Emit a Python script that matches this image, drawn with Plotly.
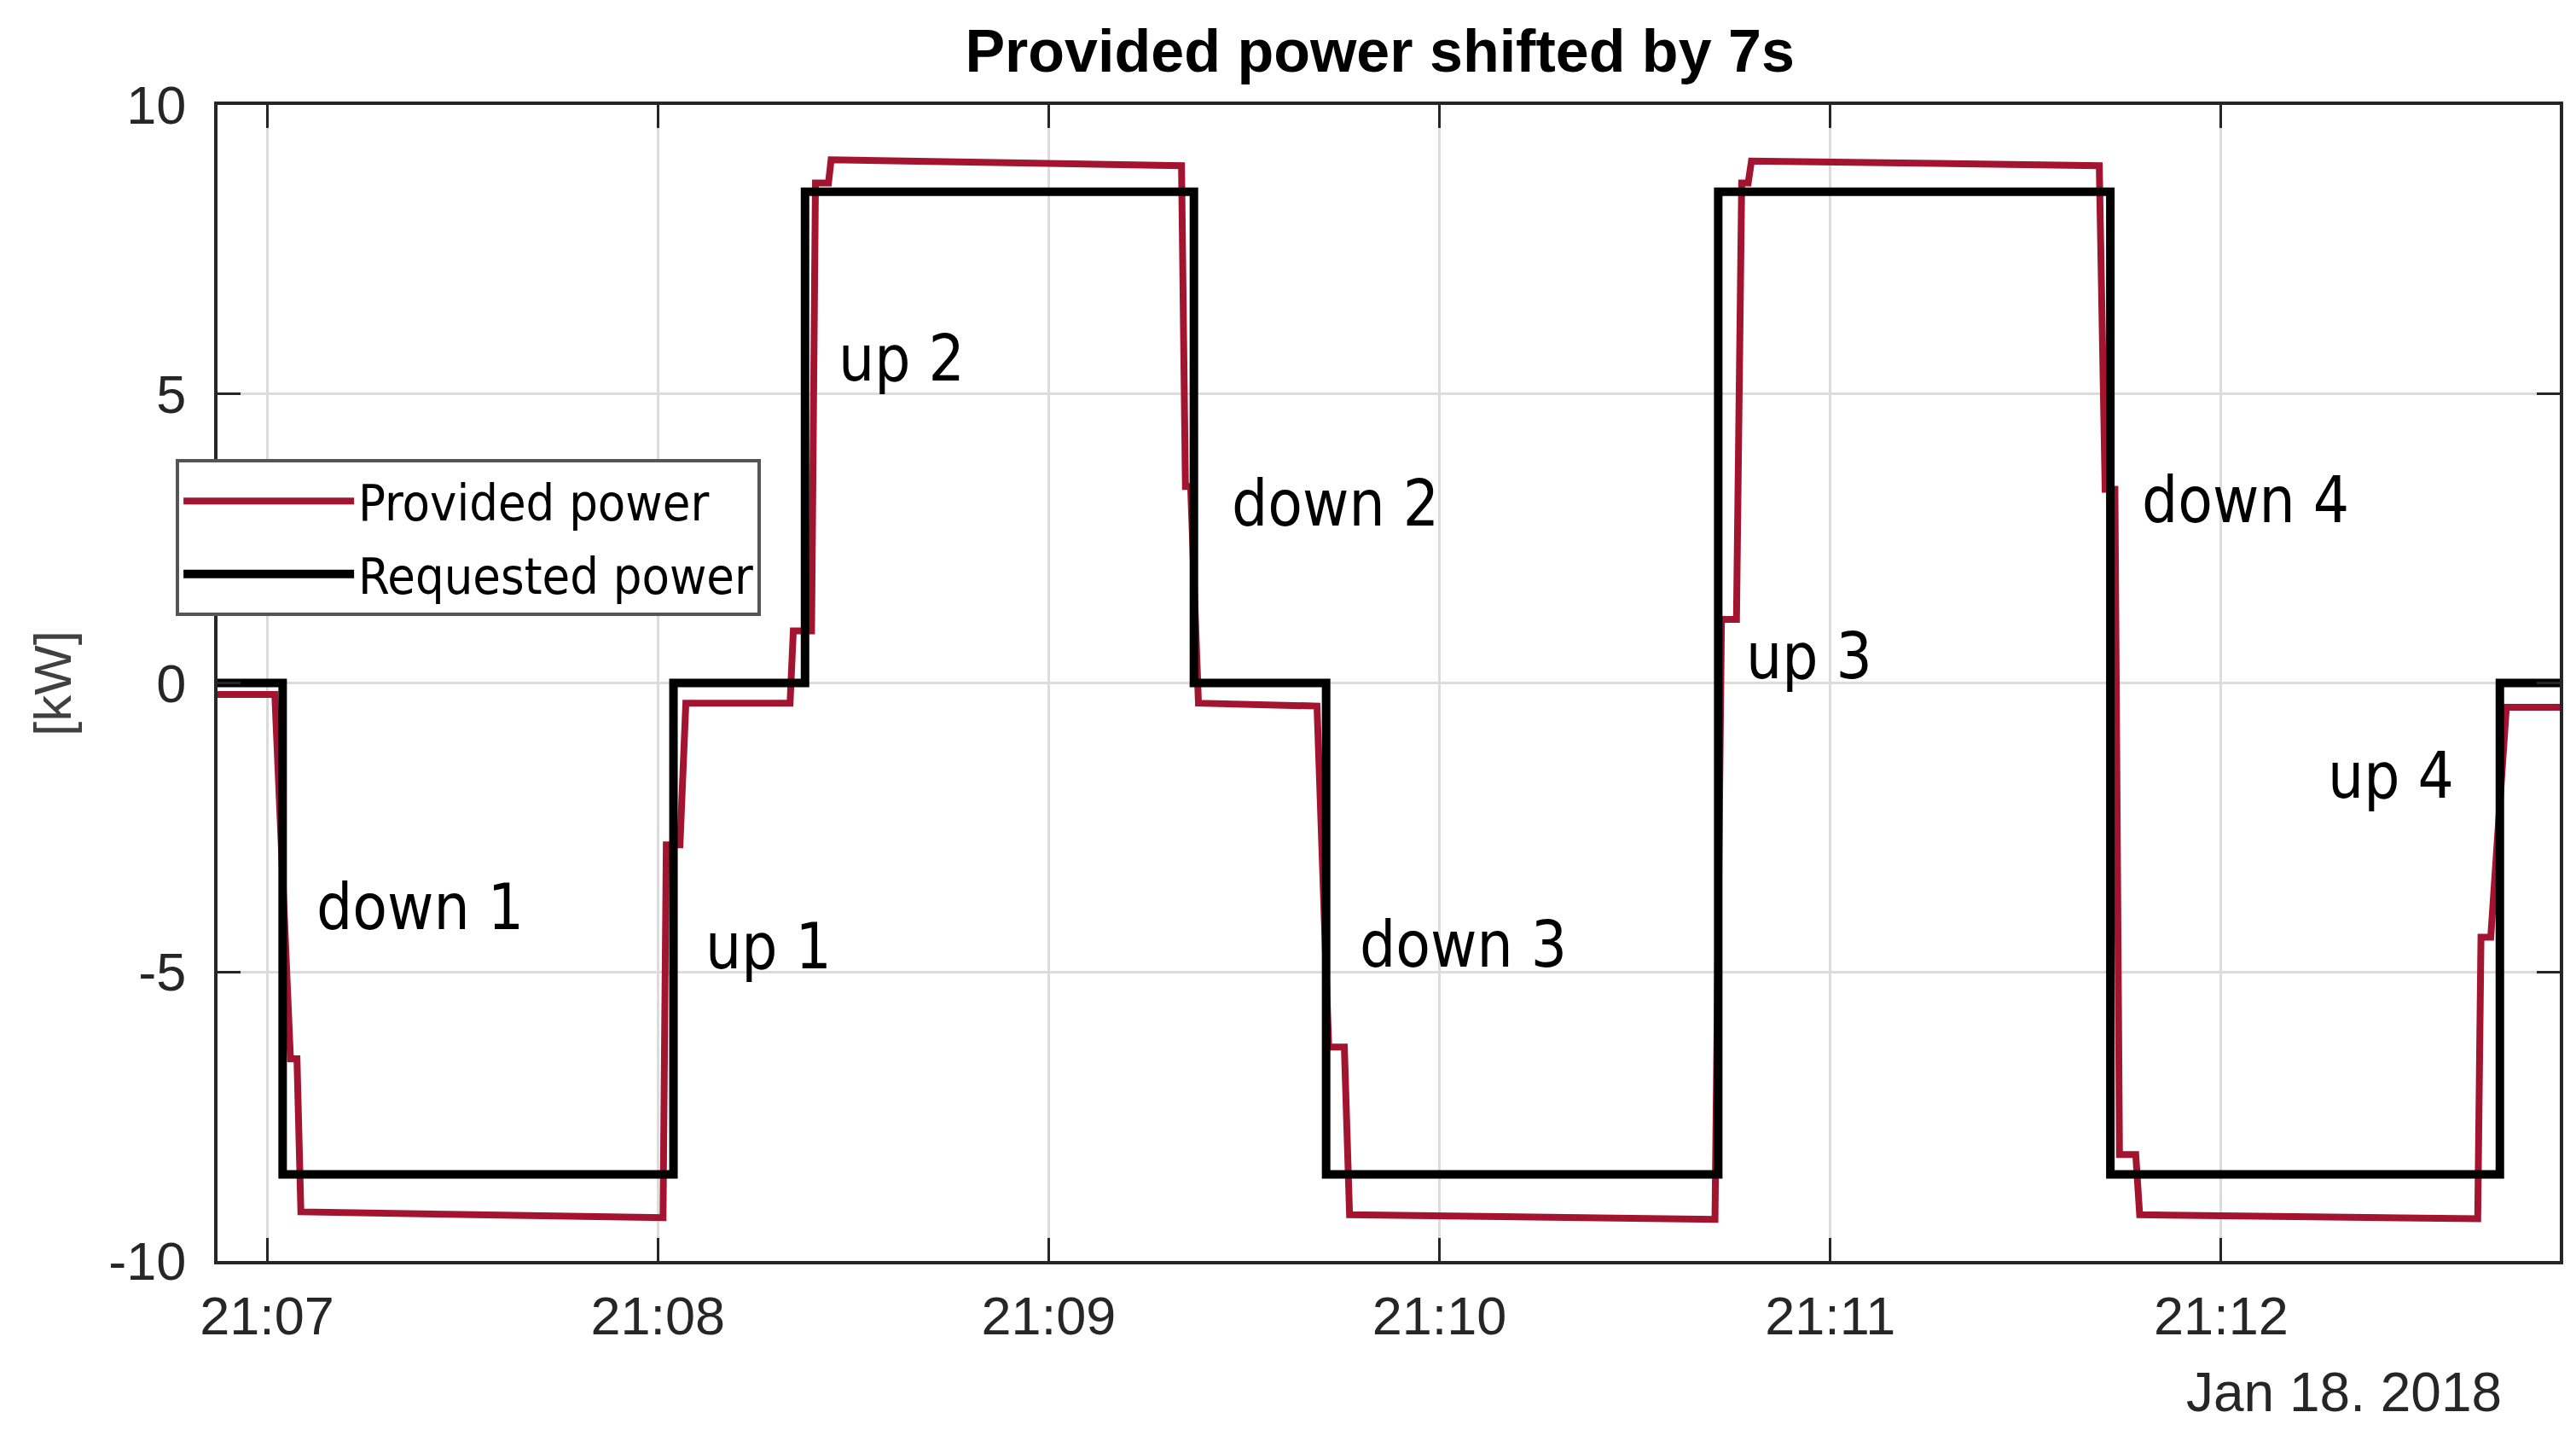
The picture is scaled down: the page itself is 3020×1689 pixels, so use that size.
import pandas as pd
import plotly.graph_objects as go

# ── Data (seconds after 21:07:00 on Jan 18 2018, power in kW) ────────────────
T0 = pd.Timestamp("2018-01-18 21:07:00")

# requested power set-point changes (drawn as steps)
req_t = [-7.6, 2.4, 62.4, 82.6, 142.3, 162.6, 222.8, 283.0, 342.8, 352.0]
req_kw = [0.0, -8.5, 0.0, 8.5, 0.0, -8.5, 8.5, -8.5, 0.0, 0.0]

# provided power, already shifted by 7 s
prov_t = [-7.6, 1.2, 3.6, 4.6, 5.2, 30.0, 60.8,
          61.3, 63.4, 64.3, 80.3,
          80.8, 83.6, 84.2, 86.2, 86.6, 110.0, 140.4,
          141.0, 141.8, 143.0, 161.2,
          163.0, 165.4, 166.2, 195.0, 222.3,
          223.3, 225.6, 226.4, 227.4, 227.9, 255.0, 281.3,
          282.2, 283.7, 284.4, 286.9, 287.5, 315.0, 339.4,
          339.9, 341.4, 343.8, 352.0]
prov_kw = [-0.2, -0.2, -6.5, -6.5, -9.15, -9.2, -9.25,
           -2.8, -2.8, -0.35, -0.35,
           0.9, 0.9, 8.65, 8.65, 9.05, 9.0, 8.95,
           3.4, 3.4, -0.35, -0.4,
           -6.3, -6.3, -9.2, -9.25, -9.28,
           1.1, 1.1, 8.65, 8.65, 9.03, 8.98, 8.95,
           3.35, 3.35, -8.16, -8.16, -9.2, -9.25, -9.27,
           -4.4, -4.4, -0.42, -0.42]

labels = ["down 1", "up 1", "up 2", "down 2", "down 3", "up 3", "down 4", "up 4"]
label_t = [7.3, 67.0, 87.5, 147.8, 167.5, 226.8, 287.6, 316.1]
label_kw = [-3.87, -4.56, 5.61, 3.1, -4.53, 0.46, 3.16, -1.6]

x_range_s = [-7.6, 352.0]
y_ticks = [-10, -5, 0, 5, 10]
y_ticktext = ["-10", "-5", "0", "5", "10"]


def to_time(secs):
    return [T0 + pd.to_timedelta(s, unit="s") for s in secs]


RED = "#a2142f"
AXIS = "#262626"
SANS = "Liberation Sans, Arial, sans-serif"
COND = "DejaVu Sans Condensed, DejaVu Sans, sans-serif"

fig = go.Figure()

fig.add_trace(go.Scatter(
    x=to_time(prov_t), y=prov_kw, mode="lines", name="Provided power",
    line=dict(color=RED, width=8), legendgroup="a",
))
fig.add_trace(go.Scatter(
    x=to_time(req_t), y=req_kw, mode="lines", name="Requested power",
    line=dict(color="black", width=10, shape="hv"), legendgroup="b",
))

for txt, t, kw in zip(labels, label_t, label_kw):
    fig.add_annotation(
        x=to_time([t])[0], y=kw, text=txt, showarrow=False,
        xanchor="left", yanchor="middle",
        font=dict(family=COND, size=74, color="black"),
    )

# y-axis label and date stamp
fig.add_annotation(
    xref="paper", yref="paper", x=-0.0705, y=0.5, text="[kW]", textangle=-90,
    showarrow=False, xanchor="center", yanchor="middle",
    font=dict(family=SANS, size=62, color="#404040"),
)
fig.add_annotation(
    xref="paper", yref="paper", x=0.908, y=-0.114, text="Jan 18. 2018",
    showarrow=False, xanchor="center", yanchor="middle",
    font=dict(family=SANS, size=64, color=AXIS),
)

fig.update_layout(
    width=3020, height=1689,
    margin=dict(l=247, r=27, t=115, b=219),
    paper_bgcolor="white", plot_bgcolor="white",
    title=dict(
        text="<b>Provided power shifted by 7s</b>",
        x=0.533, xanchor="center", y=1 - 51 / 1689, yanchor="middle",
        font=dict(family=SANS, size=70, color="black"),
    ),
    font=dict(family=SANS, color=AXIS),
    legend=dict(
        x=-0.0178, y=0.6935, xanchor="left", yanchor="top",
        bgcolor="white", bordercolor="#555555", borderwidth=4,
        font=dict(family=COND, size=59, color="black"),
        itemwidth=200, tracegroupgap=6,
    ),
    showlegend=True,
)

axis_style = dict(
    showline=True, linecolor=AXIS, linewidth=4, mirror="ticks",
    ticks="inside", ticklen=27, tickwidth=3, tickcolor=AXIS,
    showgrid=True, gridcolor="#dcdcdc", gridwidth=2.5, zeroline=False,
    tickfont=dict(family=SANS, size=63, color=AXIS),
)
fig.update_xaxes(
    **axis_style, type="date", range=to_time(x_range_s),
    tick0=T0, dtick=60000, tickformat="%H:%M", ticklabelstandoff=6,
)
fig.update_yaxes(
    **axis_style, range=[-10, 10], tickvals=y_ticks, ticktext=y_ticktext,
    ticklabelstandoff=20,
)

fig.write_html("out.html")
